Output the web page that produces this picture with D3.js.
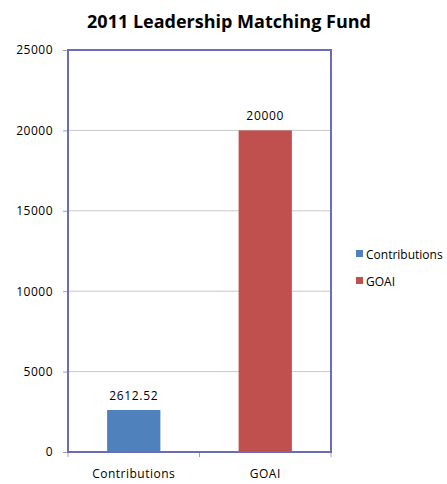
<!DOCTYPE html>
<html>
<head>
<meta charset="utf-8">
<script src="https://cdn.jsdelivr.net/npm/d3@7"></script>
<style>
  body { margin: 0; background: #fff; }
  text { font-family: "Open Sans", "Liberation Sans", sans-serif; }
</style>
</head>
<body>
<div id="chart"></div>
<script>
// Chart data
const categories = ['Contributions', 'GOAI'];
const values = [2612.52, 20000];
const valueLabels = ['2612.52', '20000'];
const colors = ['#4f81bd', '#c0504d'];
const yTicks = [0, 5000, 10000, 15000, 20000, 25000];

const W = 447, H = 484;
const margin = { top: 50, right: 116, bottom: 32, left: 68 };
const width = 331 - margin.left;
const height = 452 - margin.top;

const svg = d3.select('#chart').append('svg')
    .attr('width', W)
    .attr('height', H);

// Title
svg.append('text')
    .attr('x', 229)
    .attr('y', 28)
    .attr('text-anchor', 'middle')
    .style('font-size', '18px')
    .style('font-weight', 'bold')
    .attr('fill', '#000')
    .text('2011 Leadership Matching Fund');

const g = svg.append('g')
    .attr('transform', `translate(${margin.left},${margin.top})`);

const x = d3.scaleBand()
    .domain(categories)
    .range([0, width])
    .padding(0);

const y = d3.scaleLinear()
    .domain([0, 25000])
    .range([height, 0]);

// Gridlines
g.append('g')
    .selectAll('line')
    .data(yTicks.slice(1, -1))
    .enter()
    .append('line')
    .attr('x1', 0)
    .attr('x2', width)
    .attr('y1', d => y(d))
    .attr('y2', d => y(d))
    .attr('stroke', '#c8c8c8')
    .attr('stroke-width', 1);

// Y axis
const yAxis = g.append('g')
    .call(d3.axisLeft(y).tickValues(yTicks).tickSize(5).tickPadding(10).tickFormat(d3.format('d')));
yAxis.select('.domain').remove();
yAxis.selectAll('line').attr('stroke', '#a0a0a0');
yAxis.selectAll('text')
    .style('font-size', '12px')
    .style('letter-spacing', '0.5px')
    .attr('fill', '#000');

// X axis
const xAxis = g.append('g')
    .attr('transform', `translate(0,${height})`)
    .call(d3.axisBottom(x).tickSize(0).tickPadding(17));
xAxis.select('.domain').remove();
xAxis.selectAll('text')
    .style('font-size', '12px')
    .style('letter-spacing', '0.5px')
    .attr('fill', '#000');

// X tick marks at band edges
g.append('g')
    .selectAll('line')
    .data([0, 1, 2])
    .enter()
    .append('line')
    .attr('x1', i => i * x.step())
    .attr('x2', i => i * x.step())
    .attr('y1', height)
    .attr('y2', height + 5)
    .attr('stroke', '#a0a0a0');

// Bars
const barW = x.bandwidth() * 0.405;
g.selectAll('.bar')
    .data(values)
    .enter()
    .append('rect')
    .attr('x', (d, i) => x(categories[i]) + (x.bandwidth() - barW) / 2)
    .attr('y', d => y(d))
    .attr('width', barW)
    .attr('height', d => height - y(d))
    .attr('fill', (d, i) => colors[i]);

// Value labels
g.selectAll('.label')
    .data(values)
    .enter()
    .append('text')
    .attr('x', (d, i) => x(categories[i]) + x.bandwidth() / 2)
    .attr('y', d => y(d) - 10)
    .attr('text-anchor', 'middle')
    .style('font-size', '12px')
    .style('letter-spacing', '0.7px')
    .attr('fill', '#000')
    .text((d, i) => valueLabels[i]);

// Plot border
g.append('rect')
    .attr('x', 0)
    .attr('y', 0)
    .attr('width', width)
    .attr('height', height)
    .attr('fill', 'none')
    .attr('stroke', '#6b6bbd')
    .attr('stroke-width', 2);

// Legend
const legend = svg.append('g')
    .attr('transform', 'translate(356,250)');

categories.forEach((c, i) => {
    const row = legend.append('g')
        .attr('transform', `translate(0,${i * 27})`);
    row.append('rect')
        .attr('width', 7)
        .attr('height', 7)
        .attr('fill', colors[i]);
    row.append('text')
        .attr('x', 10)
        .attr('y', 9)
        .style('font-size', '12px')
        .attr('fill', '#000')
        .text(c);
});
</script>
</body>
</html>
